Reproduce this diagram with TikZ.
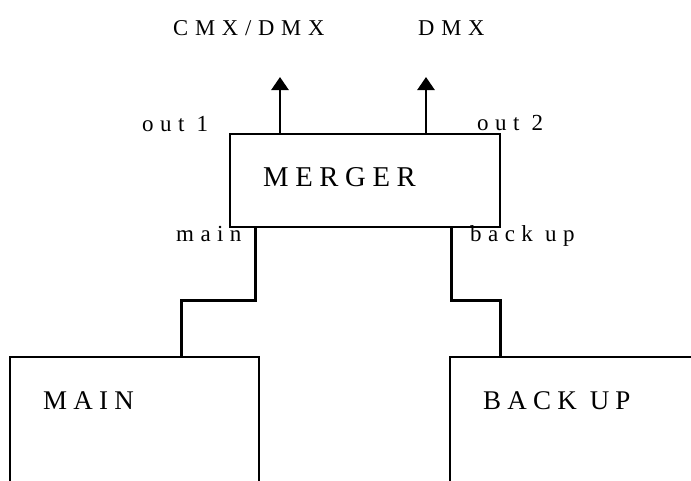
\documentclass[tikz,border=0pt]{standalone}
\usepackage{fontspec}
\usetikzlibrary{arrows.meta}
% spaced-out Times-like lettering
\newfontfamily\boxfont[LetterSpace=23]{Liberation Serif}
\newfontfamily\labfont[LetterSpace=28]{Liberation Serif}
\newfontfamily\sigfont[LetterSpace=30]{Liberation Serif}
\tikzset{
  unit/.style={draw=black, line width=1.7pt, rectangle, inner sep=0pt},
  boxtext/.style={anchor=base west, inner sep=0pt, font=\boxfont\fontsize{27}{30}\selectfont},
  bigtext/.style={anchor=base west, inner sep=0pt, font=\boxfont\fontsize{28.7}{32}\selectfont},
  portlabel/.style={anchor=base west, inner sep=0pt, font=\labfont\fontsize{23}{26}\selectfont},
  signal/.style={anchor=base west, inner sep=0pt, font=\sigfont\fontsize{22.6}{26}\selectfont},
  feed/.style={draw=black, line width=3pt},
  outarrow/.style={draw=black, line width=2.6pt, -{Triangle[width=17pt,length=13pt]}}
}
\begin{document}
\begin{tikzpicture}[x=1pt,y=-1pt]
  \useasboundingbox (0,0) rectangle (691,480);
  \clip (0,0) rectangle (691,480);

  % units
  \node[unit, minimum width=270pt, minimum height=93pt] (merger) at (365,180.5) {};
  \node[unit, minimum width=249pt, minimum height=160pt] (main) at (134.5,437) {};
  \node[unit, minimum width=260pt, minimum height=160pt] (backup) at (580,437) {};

  % box titles
  \node[bigtext] (mergerlbl) at (263,186) {MERGER};
  \node[boxtext] (mainlbl) at (43,409) {MAIN};
  \node[boxtext] (backuplbl) at (483,409) {BACK UP};

  % port labels
  \node[portlabel] (out1) at (142,131) {out 1};
  \node[portlabel] (out2) at (477,130) {out 2};
  \node[portlabel] (inmain) at (176,241) {main};
  \node[portlabel] (inback) at (470,241) {back up};

  % output signals
  \node[signal] (cmx) at (173,35) {CMX/DMX};
  \node[signal] (dmx) at (418,35) {DMX};

  % output arrows
  \coordinate (tipA) at (280,77);
  \coordinate (tipB) at (426,77);
  \draw[outarrow] (merger.north -| tipA) -- (tipA);
  \draw[outarrow] (merger.north -| tipB) -- (tipB);

  % feeds into the merger
  \coordinate (kinkA) at (255,300);
  \coordinate (kinkB) at (181,300);
  \coordinate (kinkC) at (451,300);
  \coordinate (kinkD) at (500,300);
  \draw[feed] (merger.south -| kinkA) -- (kinkA) -- (kinkB) -- (kinkB |- main.north);
  \draw[feed] (merger.south -| kinkC) -- (kinkC) -- (kinkD) -- (kinkD |- backup.north);
\end{tikzpicture}
\end{document}
